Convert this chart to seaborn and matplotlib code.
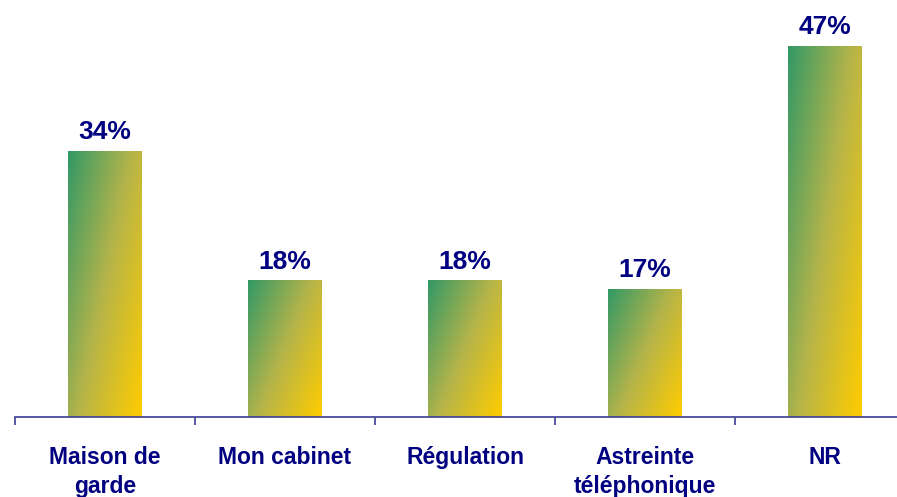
import numpy as np
import pandas as pd
import matplotlib
matplotlib.use("Agg")
import matplotlib.pyplot as plt
from matplotlib.colors import LinearSegmentedColormap
import seaborn as sns

categories = ["Maison de\ngarde", "Mon cabinet", "Régulation", "Astreinte\ntéléphonique", "NR"]
values = [34, 18, 18, 17, 47]
labels = ["34%", "18%", "18%", "17%", "47%"]

sns.set_style("white")
plt.rcParams['font.family'] = ['Liberation Sans', 'DejaVu Sans']

navy = "#000080"
axis_col = "#3c3c96"
y_bottom = 1.2

df = pd.DataFrame({"cat": categories, "val": values})

fig = plt.figure(figsize=(8.97, 4.97), dpi=100)
ax = fig.add_axes([15 / 897, 80 / 497, 900 / 897, 417 / 497])

sns.barplot(data=df, x="cat", y="val", width=0.41, color="#88aa44", ax=ax)

# diagonal gradient green (top-left) -> gold (bottom-right) inside each bar
cmap = LinearSegmentedColormap.from_list("grad", ["#339966", "#b5b44a", "#ffcc00"])
u = np.linspace(0, 1, 60)
v = np.linspace(0, 1, 120)
U, V = np.meshgrid(u, v)
grad = (U * 1.0 + V * 0.75) / 1.75
for p in ax.patches:
    x0 = p.get_x()
    w, h = p.get_width(), p.get_height()
    ax.imshow(grad, cmap=cmap, extent=[x0, x0 + w, y_bottom, p.get_y() + h],
              origin="upper", aspect="auto", zorder=2, interpolation="bilinear")
    p.set_facecolor("none")
    p.set_edgecolor("none")

for i, (val, lab) in enumerate(zip(values, labels)):
    ax.annotate(lab, (i, val), xytext=(0, 5), textcoords="offset points",
                ha="center", va="bottom", fontsize=19, fontweight="bold", color=navy)

ax.set_xlim(-0.5, 4.5)
ax.set_ylim(y_bottom, 52.7)
ax.set_xlabel("")
ax.set_ylabel("")
ax.set_yticks([])

for s in ["top", "right", "left"]:
    ax.spines[s].set_visible(False)
ax.spines["bottom"].set_color(axis_col)
ax.spines["bottom"].set_linewidth(1.2)
ax.spines["bottom"].set_zorder(3)

ax.set_xticks(np.arange(-0.5, 5, 1), minor=True)
ax.tick_params(axis="x", which="minor", length=6, width=1.2, color=axis_col, direction="out", bottom=True)
ax.tick_params(axis="x", which="major", length=0, pad=21)
for t in ax.get_xticklabels():
    t.set_fontsize(16.5)
    t.set_fontweight("bold")
    t.set_color(navy)
    t.set_linespacing(1.3)
    t.set_verticalalignment("top")

fig.savefig("out.png", dpi=100)
